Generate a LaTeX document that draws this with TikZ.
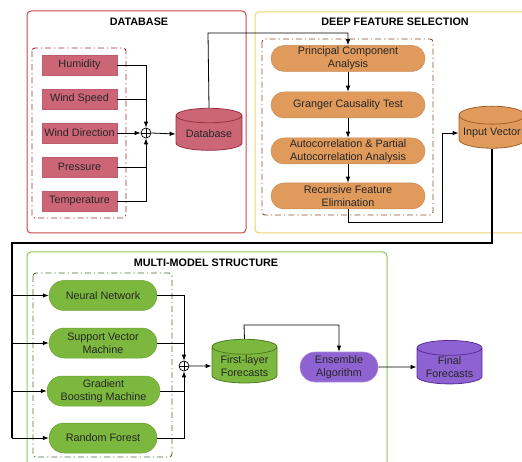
\documentclass[tikz,border=0pt]{standalone}
\usepackage{fontspec}
\setmainfont{Liberation Sans}
\usetikzlibrary{shapes.geometric,arrows.meta,calc}
\definecolor{rfill}{HTML}{CC6677}
\definecolor{rdraw}{HTML}{9E2F3F}
\definecolor{ofill}{HTML}{E09A5C}
\definecolor{odraw}{HTML}{A0602A}
\definecolor{gfill}{HTML}{7CB83E}
\definecolor{gdraw}{HTML}{4E7A22}
\definecolor{pfill}{HTML}{8E62D0}
\definecolor{pdraw}{HTML}{5A2D9A}
\definecolor{redline}{HTML}{C9474B}
\definecolor{yelline}{HTML}{EAD36A}
\definecolor{grnline}{HTML}{8CC853}
\definecolor{reddd}{HTML}{A02A35}
\definecolor{browndd}{HTML}{8A4A2E}
\definecolor{greendd}{HTML}{4D6B35}
\tikzset{
  base/.style={font=\fontsize{10.8}{12.7}\selectfont, align=center, inner sep=1pt, text=black!85},
  redbox/.style={base, rectangle, fill=rfill, draw=rfill!92!black, line width=0.4pt, minimum width=75pt, minimum height=20pt},
  orstad/.style={base, rectangle, rounded corners=13pt, fill=ofill, draw=ofill!88!black, line width=0.5pt, minimum width=154pt, minimum height=26pt},
  grstad/.style={base, rectangle, rounded corners=15pt, fill=gfill, draw=gfill!88!black, line width=0.5pt, minimum width=108pt, minimum height=30pt},
  pustad/.style={base, rectangle, rounded corners=15pt, fill=pfill, draw=pfill!70!white, line width=0.6pt, minimum width=78pt, minimum height=30pt},
  cyl/.style={base, cylinder, shape border rotate=90, aspect=0.3, minimum width=66pt, minimum height=42pt, line width=0.8pt},
  junc/.style={circle, draw, line width=0.7pt, minimum size=10pt, inner sep=0pt,
    path picture={\draw[line width=0.7pt] (path picture bounding box.north) -- (path picture bounding box.south)
      (path picture bounding box.west) -- (path picture bounding box.east);}},
  conn/.style={line width=0.8pt, black},
  arr/.style={conn, -{Latex[length=6pt,width=4.5pt]}},
  thick conn/.style={line width=1.4pt, black},
  group/.style={rounded corners=4pt, line width=1pt},
  ddot/.style={dash pattern=on 6pt off 3pt on 1.2pt off 3pt, line width=0.9pt, rounded corners=3pt},
  grptitle/.style={font=\bfseries\fontsize{10.8}{12}\selectfont, inner sep=0pt}
}
\begin{document}
\begin{tikzpicture}[x=1pt, y=-1pt]
\useasboundingbox (0,0) rectangle (522,462);
% group frames
\draw[group, redline] (27,11) rectangle (246,233);
\draw[group, yelline] (255,12) rectangle (540,233);
\draw[group, grnline] (27,252) rectangle (387,480);
\node[grptitle] (t1) at (139,22) {DATABASE};
\node[grptitle] (t2) at (395,22) {DEEP FEATURE SELECTION};
\node[grptitle] (t3) at (206,263) {MULTI-MODEL STRUCTURE};
\draw[ddot, reddd] (32,48) rectangle (126,218);
\draw[ddot, browndd] (262,39) rectangle (433,215);
\draw[ddot, greendd] (33,273) rectangle (172,457);

% database section
\node[redbox] (hum) at (79.5,65) {Humidity};
\node[redbox] (ws) at (79.5,99) {Wind Speed};
\node[redbox] (wd) at (79.5,133) {Wind Direction};
\node[redbox] (pr) at (79.5,167) {Pressure};
\node[redbox] (tp) at (79.5,201) {Temperature};
\node[junc] (j1) at (146,133) {};
\node[cyl, fill=rfill, draw=rdraw] (db) at (209,134) {Database};

\draw[arr] (hum.east) -| (j1.north);
\draw[conn] (ws.east) -- (ws.east -| j1);
\draw[arr] (wd.east) -- (j1.west);
\draw[conn] (pr.east) -- (pr.east -| j1);
\draw[arr] (tp.east) -| (j1.south);
\draw[arr] (j1.east) -- (db.west);

% deep feature selection
\node[orstad] (pca) at (348,58.5) {Principal Component\\Analysis};
\node[orstad] (gct) at (348,105) {Granger Causality Test};
\node[orstad] (acf) at (348,151) {Autocorrelation \& Partial\\Autocorrelation Analysis};
\node[orstad] (rfe) at (348,196) {Recursive Feature\\Elimination};
\node[cyl, fill=ofill, draw=odraw] (iv) at (492,133) {Input Vector};
\coordinate (dbup) at (208,33);
\draw[arr] (db.north) -- (dbup) -| (pca.north);
\draw[arr] (pca) -- (gct);
\draw[arr] (gct) -- (acf);
\draw[arr] (acf) -- (rfe);
\coordinate (rfedn) at (348,222);
\coordinate (rfert) at (442,222);
\draw[arr] (rfe.south) -- (rfedn) -- (rfert) |- (iv.west);

% multi-model structure
\node[grstad] (nn) at (103,295.5) {Neural Network};
\node[grstad] (svm) at (103,343) {Support Vector\\Machine};
\node[grstad, minimum width=113pt] (gbm) at (103.5,391) {Gradient\\Boosting Machine};
\node[grstad] (rf) at (103,438) {Random Forest};
\coordinate (lt) at (12,243);
\coordinate (lb) at (12,438);
\draw[thick conn] (iv.south) |- (lt) -- (lb);
\draw[arr] (nn.west -| lt) -- (nn.west);
\draw[arr] (svm.west -| lt) -- (svm.west);
\draw[arr] (gbm.west -| lt) -- (gbm.west);
\draw[arr] (lb) -- (rf.west);

\node[junc] (j2) at (184,366) {};
\node[cyl, fill=gfill, draw=gdraw, minimum width=65pt] (ff) at (244.5,366) {First-layer\\Forecasts};
\node[pustad] (ens) at (339,367) {Ensemble\\Algorithm};
\node[cyl, fill=pfill, draw=pdraw, minimum width=65pt] (fin) at (449.5,367) {Final\\Forecasts};

\draw[arr] (nn.east) -| (j2.north);
\draw[conn] (svm.east) -- (svm.east -| j2);
\draw[conn] (gbm.east) -- (gbm.east -| j2);
\draw[arr] (rf.east) -| (j2.south);
\draw[arr] (j2.east) -- (ff.west);
\coordinate (ffup) at (244,325);
\draw[arr] (ff.north) -- (ffup) -| (ens.north);
\draw[arr] (ens.east) -- (fin.west);
\end{tikzpicture}
\end{document}
